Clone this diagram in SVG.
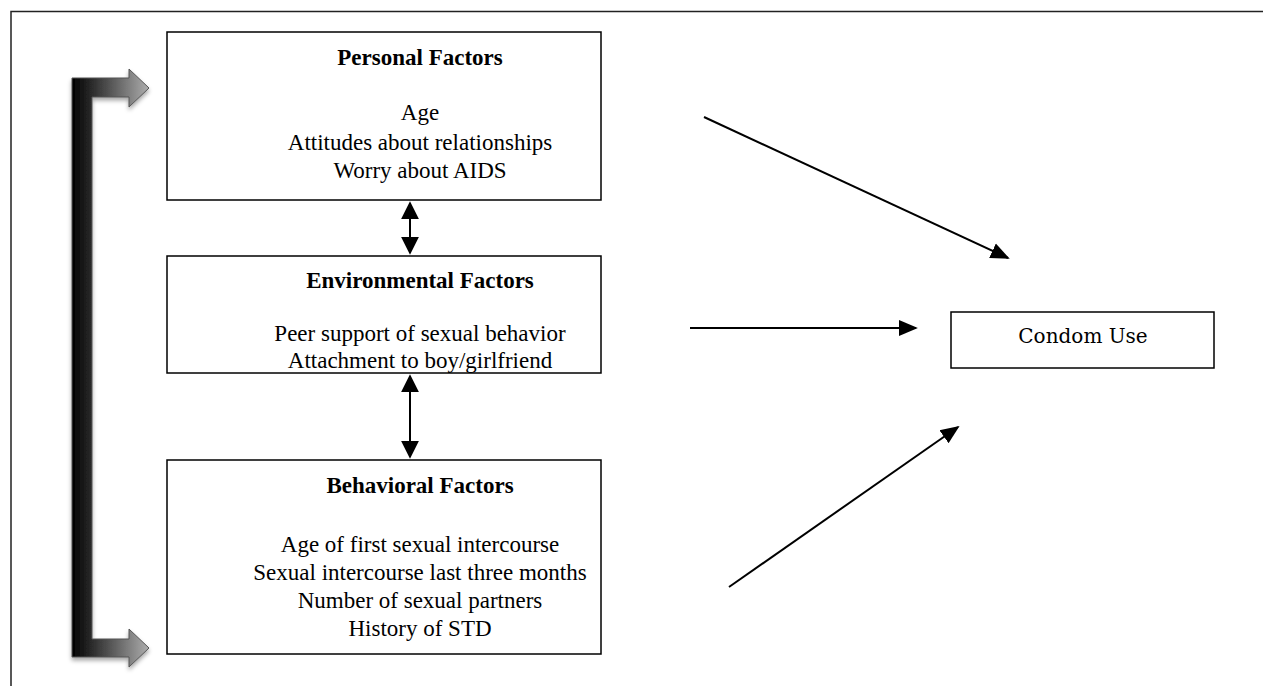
<svg xmlns="http://www.w3.org/2000/svg" width="1263" height="686" viewBox="0 0 1263 686">
<style>
.box{fill:#fff;stroke:#000;stroke-width:1.5}
.t{font-family:"Liberation Serif","Times New Roman",serif;font-size:23px;fill:#000;text-anchor:middle}
.b{font-weight:bold}
.c{stroke:#000;stroke-width:2;fill:none}
</style>
<defs>
<marker id="ahl" viewBox="0 0 10 10" refX="9" refY="5" markerWidth="19" markerHeight="19" markerUnits="userSpaceOnUse" orient="auto-start-reverse"><path d="M0,0.8 L10,5 L0,9.2 z" fill="#000"/></marker>
<marker id="ahd" viewBox="0 0 10 10" refX="9" refY="5" markerWidth="18" markerHeight="18" markerUnits="userSpaceOnUse" orient="auto-start-reverse"><path d="M0,0 L10,5 L0,10 z" fill="#000"/></marker>
<linearGradient id="g" x1="72" y1="0" x2="150" y2="0" gradientUnits="userSpaceOnUse"><stop offset="0" stop-color="#000"/><stop offset="0.3" stop-color="#333"/><stop offset="1" stop-color="#b0b0b0"/></linearGradient>
<filter id="sh" x="-20%" y="-5%" width="140%" height="110%"><feDropShadow dx="0" dy="3" stdDeviation="2" flood-color="#000" flood-opacity="0.35"/></filter>
</defs>
<rect width="1263" height="686" fill="#fff"/>
<path d="M11,686 V11.5 H1263" fill="none" stroke="#222" stroke-width="1.5"/>
<g id="loop">
<path d="M72,78 H129 V69 L149,88 L129,107 V97 H92 V639 H129 V629 L149,648 L129,667 V657 H72 Z" fill="url(#g)" stroke="#555" stroke-width="1" filter="url(#sh)"/>
</g>
<g id="personal">
<rect class="box" x="167" y="32" width="434" height="168"/>
<text class="t b" x="420" y="65">Personal Factors</text>
<text class="t" x="420" y="120">Age</text>
<text class="t" x="420" y="150">Attitudes about relationships</text>
<text class="t" x="420" y="178">Worry about AIDS</text>
</g>
<g id="environmental">
<rect class="box" x="167" y="256" width="434" height="117"/>
<text class="t b" x="420" y="288">Environmental Factors</text>
<text class="t" x="420" y="341">Peer support of sexual behavior</text>
<text class="t" x="420" y="368">Attachment to boy/girlfriend</text>
</g>
<g id="behavioral">
<rect class="box" x="167" y="460" width="434" height="194"/>
<text class="t b" x="420" y="493">Behavioral Factors</text>
<text class="t" x="420" y="552">Age of first sexual intercourse</text>
<text class="t" x="420" y="580">Sexual intercourse last three months</text>
<text class="t" x="420" y="608">Number of sexual partners</text>
<text class="t" x="420" y="636">History of STD</text>
</g>
<g id="condom">
<rect class="box" x="951" y="312" width="263" height="56"/>
<text class="t" x="1083" y="343" style="font-family:'DejaVu Serif','Liberation Serif',serif;font-size:20px">Condom Use</text>
</g>
<g id="connectors">
<line class="c" x1="410" y1="203" x2="410" y2="253" marker-start="url(#ahd)" marker-end="url(#ahd)"/>
<line class="c" x1="410" y1="376" x2="410" y2="457" marker-start="url(#ahd)" marker-end="url(#ahd)"/>
<line class="c" x1="704" y1="117" x2="1008" y2="258" marker-end="url(#ahl)"/>
<line class="c" x1="690" y1="328" x2="916" y2="328" marker-end="url(#ahl)"/>
<line class="c" x1="729" y1="587" x2="958" y2="427" marker-end="url(#ahl)"/>
</g>
</svg>
